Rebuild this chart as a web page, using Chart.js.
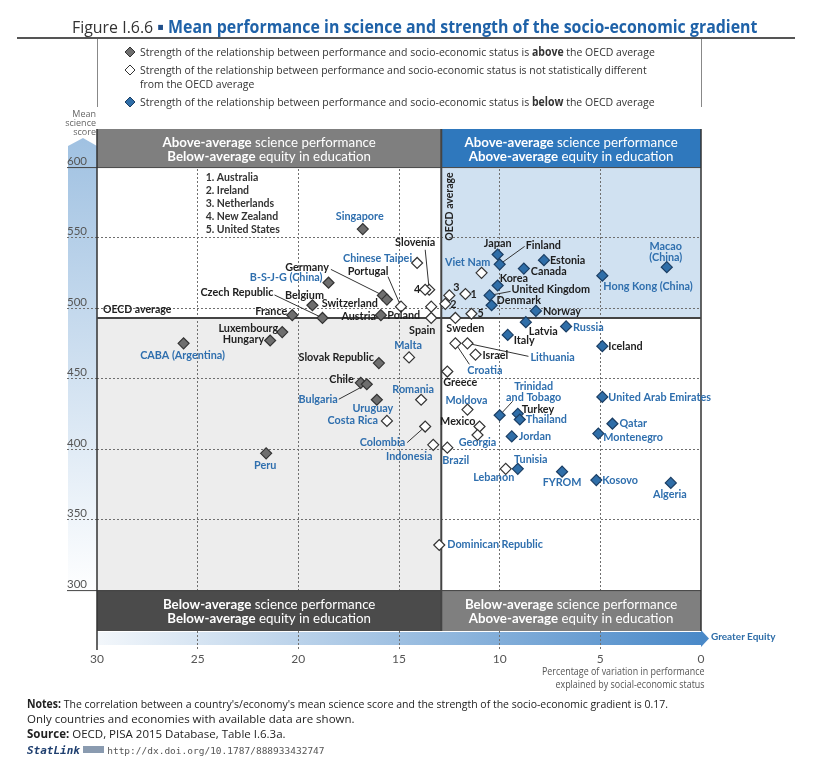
<!DOCTYPE html>
<html>
<head>
<meta charset="utf-8">
<script src="https://cdn.jsdelivr.net/npm/chart.js@4.4.0/dist/chart.umd.min.js"></script>
<style>
  body { margin: 0; background: #fff; }
  #wrap { position: relative; width: 816px; height: 771px; overflow: hidden; font-family: "Open Sans", Lato, sans-serif; color: #222; }
  #chart { position: absolute; left: 0; top: 0; }
  .abs { position: absolute; white-space: nowrap; transform-origin: 0 0; }
  .rule { position: absolute; background: #555; }
  #title { left: 72px; top: 16px; font-size: 17px; line-height: 22px; color: #333; }
  #title b { color: #1f62a8; }
  .leg { left: 140px; font-size: 11.5px; line-height: 14px; color: #333; }
  .ico { position: absolute; left: 124px; }
  #yname { left: 60px; width: 36px; top: 109px; font-size: 9px; line-height: 9px; color: #666; text-align: right; }
  #xname { right: 111px; top: 665px; font-size: 10.5px; line-height: 13px; color: #555; text-align: right; }
  #equity { left: 711px; top: 630px; font: bold 10px Lato, sans-serif; color: #2e6da8; }
  .note { left: 27px; font-size: 11.5px; line-height: 15px; color: #222; }
  #stat { left: 27px; top: 743px; font-size: 10px; color: #444; }
  #stat i { font: italic bold 11px "DejaVu Sans Mono", monospace; color: #1f3f6f; }
  #stat span { font-family: "DejaVu Sans Mono", monospace; font-size: 9.5px; color: #555; }
</style>
</head>
<body>
<div id="wrap">
  <canvas id="chart" width="816" height="771"></canvas>

  <div class="abs" id="title">Figure I.6.6 <b style="color:#1f4e8a">▪</b> <b>Mean performance in science and strength of the socio-economic gradient</b></div>
  <div class="rule" style="left:17px; top:37px; width:778px; height:2px;"></div>
  <div class="rule" style="left:97px; top:39px; width:1px; height:68px; background:#888;"></div>
  <div class="rule" style="left:701px; top:39px; width:1px; height:68px; background:#888;"></div>

  <svg class="ico" style="top:46px" width="12" height="12"><polygon points="6,1 11,6 6,11 1,6" fill="#6e6e6e" stroke="#333"/></svg>
  <div class="abs leg" id="leg1" style="top:45px">Strength of the relationship between performance and socio-economic status is <b>above</b> the OECD average</div>
  <svg class="ico" style="top:64px" width="12" height="12"><polygon points="6,1 11,6 6,11 1,6" fill="#fff" stroke="#333"/></svg>
  <div class="abs leg" id="leg2" style="top:63px">Strength of the relationship between performance and socio-economic status is not statistically different<br>from the OECD average</div>
  <svg class="ico" style="top:96px" width="12" height="12"><polygon points="6,1 11,6 6,11 1,6" fill="#2f6ea8" stroke="#1a3d63"/></svg>
  <div class="abs leg" id="leg3" style="top:95px">Strength of the relationship between performance and socio-economic status is <b>below</b> the OECD average</div>

  <div class="abs" id="yname">Mean<br>science<br>score</div>
  <div class="abs" id="equity">Greater Equity</div>
  <div class="abs" id="xname" style="transform-origin:100% 0">Percentage of variation in performance<br>explained by social-economic status</div>

  <div class="abs note" id="n1" style="top:696px"><b>Notes:</b> The correlation between a country's/economy's mean science score and the strength of the socio-economic gradient is 0.17.</div>
  <div class="abs note" id="n2" style="top:711px">Only countries and economies with available data are shown.</div>
  <div class="abs note" id="n3" style="top:726px"><b>Source:</b> OECD, PISA 2015 Database, Table I.6.3a.</div>
  <div class="abs" id="stat"><i>StatLink</i> <svg width="22" height="9"><rect x="0" y="1" width="21" height="7" fill="#8a9bb0"/></svg> <span>http://dx.doi.org/10.1787/888933432747</span></div>
</div>

<script>
// === Data ===
const aboveNames = ["Singapore", "B-S-J-G (China)", "Germany", "Switzerland", "Belgium", "Czech Republic", "France", "Austria",
  "Luxembourg", "Hungary", "CABA (Argentina)", "Slovak Republic", "Chile", "Bulgaria", "Uruguay", "Peru"];
const aboveX = [16.8, 18.5, 15.8, 15.6, 19.3, 18.8, 20.3, 15.9, 20.8, 21.4, 25.7, 16.0, 16.9, 16.6, 16.1, 21.6];
const aboveY = [556, 518, 509, 506, 502, 493, 495, 495, 483, 477, 475, 461, 447, 446, 435, 397];

const sameNames = ["Chinese Taipei", "Slovenia", "New Zealand", "Portugal", "Poland", "Spain", "Australia", "Ireland",
  "Netherlands", "United States", "Sweden", "Viet Nam", "Malta", "Croatia", "Lithuania", "Israel", "Greece", "Moldova",
  "Mexico", "Georgia", "Brazil", "Lebanon", "Romania", "Costa Rica", "Colombia", "Indonesia", "Dominican Republic"];
const sameX = [14.1, 13.5, 13.7, 14.9, 13.4, 13.4, 11.7, 12.7, 12.5, 11.4, 12.2, 10.9, 14.5, 12.2, 11.6, 11.2, 12.6, 11.6,
  11.0, 11.1, 12.6, 9.7, 13.9, 15.6, 13.7, 13.3, 13.0];
const sameY = [532, 513, 513, 501, 501, 493, 510, 503, 509, 496, 493, 525, 465, 475, 475, 467, 455, 428,
  416, 410, 401, 386, 435, 420, 416, 403, 332];

const belowNames = ["Japan", "Finland", "Estonia", "Canada", "Macao (China)", "Hong Kong (China)", "Korea", "United Kingdom",
  "Denmark", "Norway", "Latvia", "Russia", "Italy", "Iceland", "United Arab Emirates", "Trinidad and Tobago", "Turkey",
  "Thailand", "Qatar", "Montenegro", "Jordan", "Tunisia", "FYROM", "Kosovo", "Algeria"];
const belowX = [10.1, 10.0, 7.8, 8.8, 1.7, 4.9, 10.1, 10.5, 10.4, 8.2, 8.7, 6.7, 9.6, 4.9, 4.9, 10.0, 9.1,
  9.0, 4.4, 5.1, 9.4, 9.1, 6.9, 5.2, 1.5];
const belowY = [538, 531, 534, 528, 529, 523, 516, 509, 502, 498, 490, 487, 481, 473, 437, 424, 425,
  421, 418, 411, 409, 386, 384, 378, 376];

const partners = ["Singapore", "B-S-J-G (China)", "CABA (Argentina)", "Bulgaria", "Uruguay", "Peru", "Chinese Taipei",
  "Viet Nam", "Malta", "Croatia", "Lithuania", "Moldova", "Georgia", "Brazil", "Lebanon", "Romania", "Costa Rica",
  "Colombia", "Indonesia", "Dominican Republic", "Macao (China)", "Hong Kong (China)", "Russia", "United Arab Emirates",
  "Trinidad and Tobago", "Thailand", "Qatar", "Montenegro", "Jordan", "Tunisia", "FYROM", "Kosovo", "Algeria"];
const numbered = ["1. Australia", "2. Ireland", "3. Netherlands", "4. New Zealand", "5. United States"];

const oecdX = 12.9;
const oecdY = 493;
const xTicks = [30, 25, 20, 15, 10, 5, 0];
const yTicks = [300, 350, 400, 450, 500, 550, 600];

// === Label text / placement (pixel offsets from the point) ===
const shortText = { "Australia": "1", "Ireland": "2", "Netherlands": "3", "New Zealand": "4", "United States": "5",
  "Macao (China)": ["Macao", "(China)"], "Trinidad and Tobago": ["Trinidad", "and Tobago"] };

const labelPos = {
  "Singapore": [-3, -13, "center"], "B-S-J-G (China)": [-6, -5, "right"], "Germany": [-54, -28, "right"],
  "Switzerland": [-9, 4, "right"], "Belgium": [-8, -10, "center"], "Czech Republic": [-49, -25, "right"],
  "France": [-5, -4, "right"], "Austria": [-5, 1, "right"], "Luxembourg": [-4, -4, "right"],
  "Hungary": [-6, -1, "right"], "CABA (Argentina)": [-1, 12, "center"], "Slovak Republic": [-5, -6, "right"],
  "Chile": [-7, -3, "right"], "Bulgaria": [-29, 15, "right"], "Uruguay": [-4, 9, "center"], "Peru": [-1, 12, "center"],

  "Chinese Taipei": [-5, -4, "right"], "Slovenia": [-14, -47, "center"], "New Zealand": [-5, 0, "right"],
  "Portugal": [-33, -35, "center"], "Poland": [-11, 9, "right"], "Spain": [-9, 13, "center"],
  "Australia": [5, 1, "left"], "Ireland": [5, 1, "left"], "Netherlands": [4, -8, "left"], "United States": [6, 0, "left"],
  "Sweden": [-9, 11, "left"], "Viet Nam": [-14, -10, "center"], "Malta": [-1, -12, "center"],
  "Croatia": [12, 27, "left"], "Lithuania": [63, 14, "left"], "Israel": [7, 1, "left"], "Greece": [-4, 11, "left"],
  "Moldova": [-1, -9, "center"], "Mexico": [-4, -5, "right"], "Georgia": [0, 8, "center"], "Brazil": [-5, 13, "left"],
  "Lebanon": [-12, 9, "center"], "Romania": [-8, -10, "center"], "Costa Rica": [-9, 0, "right"],
  "Colombia": [-20, 16, "right"], "Indonesia": [-24, 12, "center"], "Dominican Republic": [8, 0, "left"],

  "Japan": [0, -11, "center"], "Finland": [26, -19, "left"], "Estonia": [6, 0, "left"], "Canada": [7, 3, "left"],
  "Macao (China)": [-1, -21, "center"], "Hong Kong (China)": [1, 11, "left"], "Korea": [2, -7, "left"],
  "United Kingdom": [22, -6, "left"], "Denmark": [5, -5, "left"], "Norway": [7, 1, "left"], "Latvia": [3, 9, "left"],
  "Russia": [7, 1, "left"], "Italy": [6, 6, "left"], "Iceland": [6, 0, "left"], "United Arab Emirates": [6, 1, "left"],
  "Trinidad and Tobago": [34, -29, "center"], "Turkey": [4, -4, "left"], "Thailand": [6, 0, "left"],
  "Qatar": [7, 0, "left"], "Montenegro": [5, 4, "left"], "Jordan": [7, 0, "left"], "Tunisia": [13, -9, "center"],
  "FYROM": [0, 11, "center"], "Kosovo": [6, 0, "left"], "Algeria": [-1, 12, "center"]
};

// leader lines: label-side end, offset from the point
const leaders = {
  "Germany": [-52, -26], "Portugal": [-13, -30], "Czech Republic": [-48, -23], "Slovenia": [-4, -40],
  "Bulgaria": [-28, 15], "Colombia": [-18, 16], "Finland": [25, -18], "United Kingdom": [21, -4],
  "Croatia": [14, 21], "Lithuania": [61, 13], "Trinidad and Tobago": [13, -14]
};

const FONT = "Lato, 'Open Sans', sans-serif";

function toPoints(xs, ys, names) {
  return xs.map((v, i) => ({ x: v, y: ys[i], name: names[i] }));
}

function mixedText(ctx, parts, cx, cy, size) {
  let w = 0;
  parts.forEach(p => { ctx.font = (p[1] ? "bold " : "") + size + "px " + FONT; w += ctx.measureText(p[0]).width; });
  let xx = cx - w / 2;
  ctx.textAlign = "left";
  ctx.textBaseline = "middle";
  parts.forEach(p => {
    ctx.font = (p[1] ? "bold " : "") + size + "px " + FONT;
    ctx.fillText(p[0], xx, cy);
    xx += ctx.measureText(p[0]).width;
  });
}

const ABOVE_PERF = [["Above-average", true], [" science performance", false]];
const BELOW_PERF = [["Below-average", true], [" science performance", false]];
const ABOVE_EQ = [["Above-average", true], [" equity in education", false]];
const BELOW_EQ = [["Below-average", true], [" equity in education", false]];

const decor = {
  id: "decor",
  beforeDraw(chart) {
    const { ctx, chartArea: a, scales: { x, y } } = chart;
    const x0 = x.getPixelForValue(30), x1 = x.getPixelForValue(oecdX), x2 = x.getPixelForValue(0);
    const yTop = y.getPixelForValue(600), yMid = y.getPixelForValue(oecdY), yBot = y.getPixelForValue(300);
    ctx.save();
    // vertical arrow behind the y axis
    const g = ctx.createLinearGradient(0, a.top, 0, yBot + 5);
    g.addColorStop(0, "#9ec0e1");
    g.addColorStop(1, "#ffffff");
    ctx.fillStyle = g;
    ctx.beginPath();
    ctx.moveTo(68, a.top + 17);
    ctx.lineTo(83, a.top + 9);
    ctx.lineTo(x0, a.top + 17);
    ctx.lineTo(x0, yBot + 5);
    ctx.lineTo(68, yBot + 5);
    ctx.closePath();
    ctx.fill();
    // quadrant backgrounds
    ctx.fillStyle = "#d0e1f1";
    ctx.fillRect(x1, yTop, x2 - x1, yMid - yTop);
    ctx.fillStyle = "#ededed";
    ctx.fillRect(x0, yMid, x1 - x0, yBot - yMid);
    // horizontal "greater equity" arrow
    const gb = ctx.createLinearGradient(x0, 0, x2, 0);
    gb.addColorStop(0, "#f3f7fb");
    gb.addColorStop(1, "#4a89c8");
    ctx.fillStyle = gb;
    ctx.fillRect(x0, a.bottom + 1, x2 - x0, 13);
    ctx.fillStyle = "#4a89c8";
    ctx.beginPath();
    ctx.moveTo(x2, a.bottom - 1);
    ctx.lineTo(x2 + 8, a.bottom + 7.5);
    ctx.lineTo(x2, a.bottom + 16);
    ctx.fill();
    ctx.restore();
  },
  beforeDatasetsDraw(chart) {
    const { ctx, chartArea: a, scales: { x, y } } = chart;
    const x0 = x.getPixelForValue(30), x1 = x.getPixelForValue(oecdX), x2 = x.getPixelForValue(0);
    const yTop = y.getPixelForValue(600), yMid = y.getPixelForValue(oecdY), yBot = y.getPixelForValue(300);
    ctx.save();
    // bands
    ctx.fillStyle = "#7f7f7f"; ctx.fillRect(x0, a.top, x1 - x0, yTop - a.top);
    ctx.fillStyle = "#2f78bd"; ctx.fillRect(x1, a.top, x2 - x1, yTop - a.top);
    ctx.fillStyle = "#4b4b4b"; ctx.fillRect(x0, yBot, x1 - x0, a.bottom - yBot);
    ctx.fillStyle = "#7f7f7f"; ctx.fillRect(x1, yBot, x2 - x1, a.bottom - yBot);
    ctx.fillStyle = "#fff";
    const tc = (yTop + a.top) / 2, bc = (a.bottom + yBot) / 2;
    const fs = 13.3;
    mixedText(ctx, ABOVE_PERF, (x0 + x1) / 2, tc - 5, fs);
    mixedText(ctx, BELOW_EQ, (x0 + x1) / 2, tc + 9, fs);
    mixedText(ctx, ABOVE_PERF, (x1 + x2) / 2, tc - 5, fs);
    mixedText(ctx, ABOVE_EQ, (x1 + x2) / 2, tc + 9, fs);
    mixedText(ctx, BELOW_PERF, (x0 + x1) / 2, bc - 6, fs);
    mixedText(ctx, BELOW_EQ, (x0 + x1) / 2, bc + 8, fs);
    mixedText(ctx, BELOW_PERF, (x1 + x2) / 2, bc - 6, fs);
    mixedText(ctx, ABOVE_EQ, (x1 + x2) / 2, bc + 8, fs);

    // frame lines
    ctx.strokeStyle = "#444";
    ctx.lineWidth = 1;
    ctx.beginPath();
    ctx.moveTo(67, yTop + 0.5); ctx.lineTo(x2, yTop + 0.5);
    ctx.moveTo(67, yBot + 0.5); ctx.lineTo(x2, yBot + 0.5);
    ctx.stroke();
    ctx.lineWidth = 1.5;
    ctx.strokeStyle = "#333";
    ctx.beginPath();
    ctx.moveTo(x0, a.top); ctx.lineTo(x0, a.bottom + 19);
    ctx.moveTo(x2, a.top); ctx.lineTo(x2, a.bottom);
    ctx.stroke();
    // OECD average lines
    ctx.lineWidth = 2;
    ctx.strokeStyle = "#444";
    ctx.beginPath();
    ctx.moveTo(x1, a.top); ctx.lineTo(x1, a.bottom);
    ctx.moveTo(x0, yMid); ctx.lineTo(x2, yMid);
    ctx.stroke();

    ctx.fillStyle = "#222";
    ctx.font = "bold 10.5px " + FONT;
    ctx.textBaseline = "middle";
    ctx.textAlign = "left";
    ctx.fillText("OECD average", x0 + 6, yMid - 8);
    ctx.save();
    ctx.translate(x1 + 8, y.getPixelForValue(572));
    ctx.rotate(-Math.PI / 2);
    ctx.textAlign = "center";
    ctx.fillText("OECD average", 0, 0);
    ctx.restore();

    // numbered key
    ctx.fillStyle = "#333";
    ctx.font = "bold 10.5px " + FONT;
    ctx.textAlign = "left";
    numbered.forEach((t, i) => ctx.fillText(t, x.getPixelForValue(24.6), yTop + 11 + i * 13));

    // leader lines
    ctx.strokeStyle = "#333";
    ctx.lineWidth = 1;
    chart.data.datasets.forEach((ds, di) => {
      chart.getDatasetMeta(di).data.forEach((el, i) => {
        const l = leaders[ds.data[i].name];
        if (!l) return;
        ctx.beginPath();
        ctx.moveTo(el.x + l[0], el.y + l[1]);
        ctx.lineTo(el.x, el.y);
        ctx.stroke();
      });
    });
    ctx.restore();
  },
  afterDatasetsDraw(chart) {
    const { ctx } = chart;
    ctx.save();
    ctx.font = "bold 10.8px " + FONT;
    ctx.textBaseline = "middle";
    chart.data.datasets.forEach((ds, di) => {
      chart.getDatasetMeta(di).data.forEach((el, i) => {
        const name = ds.data[i].name;
        const p = labelPos[name] || [6, 0, "left"];
        let txt = shortText[name] || name;
        ctx.fillStyle = partners.includes(name) ? "#2f6fae" : "#1e1e1e";
        ctx.textAlign = p[2];
        if (Array.isArray(txt)) {
          txt.forEach((t, k) => ctx.fillText(t, el.x + p[0], el.y + p[1] + k * 11));
        } else {
          ctx.fillText(txt, el.x + p[0], el.y + p[1]);
        }
      });
    });
    ctx.restore();
  }
};

const tickVal = c => (c.tick ? c.tick.value : null);

new Chart(document.getElementById("chart"), {
  type: "scatter",
  data: {
    datasets: [
      { label: "above", data: toPoints(aboveX, aboveY, aboveNames), backgroundColor: "#6e6e6e", borderColor: "#333" },
      { label: "same", data: toPoints(sameX, sameY, sameNames), backgroundColor: "#ffffff", borderColor: "#333" },
      { label: "below", data: toPoints(belowX, belowY, belowNames), backgroundColor: "#2f6ea8", borderColor: "#1a3d63" }
    ].map(d => Object.assign(d, { pointStyle: "rectRot", pointRadius: 5.5, borderWidth: 1.2 }))
  },
  options: {
    responsive: false,
    animation: false,
    layout: { padding: { left: 67, right: 115, top: 129, bottom: 100 } },
    plugins: { legend: { display: false }, tooltip: { enabled: false } },
    scales: {
      x: {
        type: "linear", min: 0, max: 30, reverse: true,
        afterFit(s) { s.height = 40; },
        afterBuildTicks(s) { s.ticks = xTicks.map(v => ({ value: v })); },
        grid: {
          color: c => (tickVal(c) === 0 || tickVal(c) === 30) ? "rgba(0,0,0,0)" : "#6f6f6f",
          tickColor: c => (tickVal(c) === 0 || tickVal(c) === 30) ? "rgba(0,0,0,0)" : "#6f6f6f",
          tickLength: 18, tickBorderDash: [2, 2], lineWidth: 1
        },
        border: { display: false, dash: [2, 2] },
        ticks: { autoSkip: false, maxRotation: 0, color: "#555", padding: 3, font: { family: FONT, size: 12 } }
      },
      y: {
        type: "linear", min: 271, max: 627,
        afterFit(s) { s.width = 30; },
        afterBuildTicks(s) { s.ticks = yTicks.map(v => ({ value: v })); },
        grid: {
          color: c => (tickVal(c) === 300 || tickVal(c) === 600) ? "rgba(0,0,0,0)" : "#6f6f6f",
          tickColor: c => (tickVal(c) === 300 || tickVal(c) === 600) ? "rgba(0,0,0,0)" : "#6f6f6f",
          tickLength: 30, tickBorderDash: [2, 2], lineWidth: 1
        },
        border: { display: false, dash: [2, 2] },
        ticks: { autoSkip: false, crossAlign: "far", labelOffset: -6, padding: 0, color: "#555", font: { family: FONT, size: 11.5 } }
      }
    }
  },
  plugins: [decor]
});

// squeeze the page texts to the widths of the reference
function fit(id, w) {
  const el = document.getElementById(id);
  el.style.transform = "scaleX(" + (w / el.offsetWidth) + ")";
}
fit("title", 685);
fit("leg1", 515);
fit("leg2", 507);
fit("leg3", 515);
fit("n1", 641);
fit("xname", 163);
</script>
</body>
</html>
